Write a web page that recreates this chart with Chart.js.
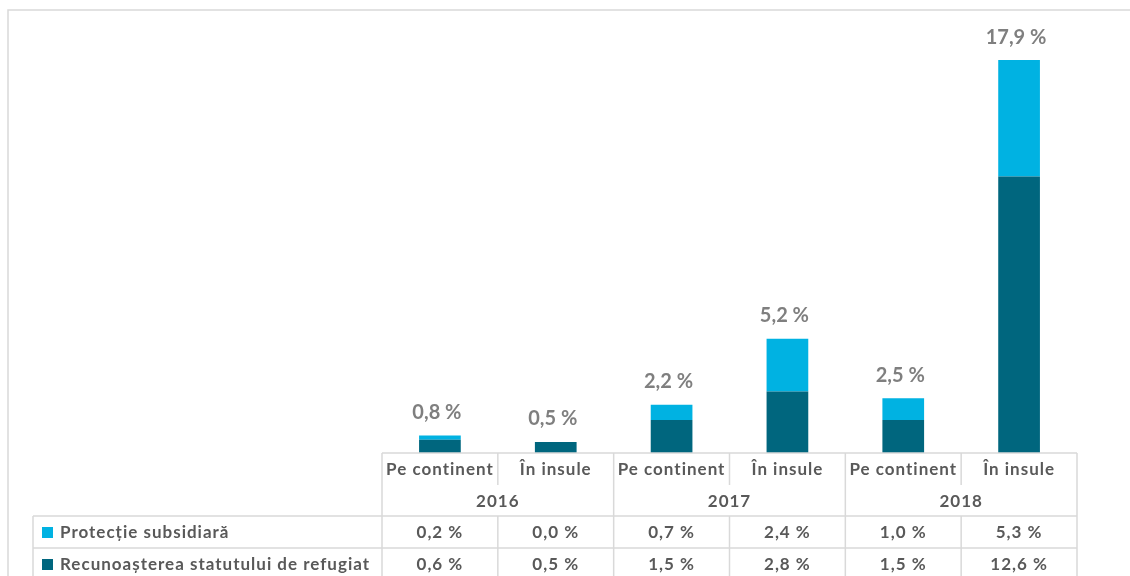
<!DOCTYPE html>
<html>
<head>
<meta charset="utf-8">
<script src="https://cdn.jsdelivr.net/npm/chart.js@4/dist/chart.umd.min.js"></script>
<style>
  html, body { margin: 0; padding: 0; background: #fff; }
  #wrap { width: 1130px; height: 576px; position: relative; }
</style>
</head>
<body>
<div id="wrap"><canvas id="chart" width="1130" height="576"></canvas></div>
<script>
// values
const categories = ['Pe continent', 'În insule', 'Pe continent', 'În insule', 'Pe continent', 'În insule']
const years = ['2016', '2017', '2018']
const subsidiara = [0.2, 0.0, 0.7, 2.4, 1.0, 5.3]
const refugiat = [0.6, 0.5, 1.5, 2.8, 1.5, 12.6]
const totals = [0.8, 0.5, 2.2, 5.2, 2.5, 17.9]
const seriesNames = ['Protecție subsidiară', 'Recunoașterea statutului de refugiat']

const lightBlue = '#00B2E2'
const darkTeal = '#00667E'
const gridColor = '#D9D9D9'
const textColor = '#595959'
const FONT = 'Lato, "DejaVu Sans", sans-serif'

function fmt (v) {
  return v.toFixed(1).replace('.', ',') + ' %'
}

const tablePlugin = {
  id: 'tablePlugin',
  afterDraw: function (chart) {
    const ctx = chart.ctx
    const area = chart.chartArea
    const x = chart.scales.x
    const y = chart.scales.y
    const n = categories.length
    const colW = (area.right - area.left) / n
    const top = area.bottom
    const rowCat = top + 32
    const rowYear = top + 63
    const rowS1 = top + 95
    const bottom = chart.height + 5
    const tableLeft = 33

    ctx.save()
    ctx.strokeStyle = gridColor
    ctx.lineWidth = 1.5

    // outer frame
    ctx.beginPath()
    ctx.moveTo(8, chart.height)
    ctx.lineTo(8, 10)
    ctx.lineTo(chart.width, 10)
    ctx.stroke()

    ctx.beginPath()
    // horizontal lines
    ctx.moveTo(area.left, top); ctx.lineTo(area.right, top)
    ctx.moveTo(tableLeft, rowYear); ctx.lineTo(area.right, rowYear)
    ctx.moveTo(tableLeft, rowS1); ctx.lineTo(area.right, rowS1)
    ctx.moveTo(tableLeft, rowYear); ctx.lineTo(tableLeft, bottom)
    // vertical lines
    for (let i = 0; i <= n; i++) {
      const xx = area.left + i * colW
      if (i % 2 === 0) {
        ctx.moveTo(xx, top); ctx.lineTo(xx, bottom)
      } else {
        ctx.moveTo(xx, top); ctx.lineTo(xx, rowCat)
        ctx.moveTo(xx, rowYear); ctx.lineTo(xx, bottom)
      }
    }
    ctx.stroke()

    // texts
    ctx.fillStyle = textColor
    ctx.font = 'bold 17px ' + FONT
    ctx.letterSpacing = '1px'
    ctx.textAlign = 'center'
    ctx.textBaseline = 'middle'
    categories.forEach(function (c, i) {
      ctx.fillText(c, x.getPixelForValue(i), (top + rowCat) / 2 + 1)
    })
    years.forEach(function (yr, j) {
      const cx = area.left + (j * 2 + 1) * colW
      ctx.fillText(yr, cx, (rowCat + rowYear) / 2 + 1)
    })
    const rows = [subsidiara, refugiat]
    const rowCenters = [(rowYear + rowS1) / 2 + 1, rowS1 + 17]
    rows.forEach(function (arr, r) {
      arr.forEach(function (v, i) {
        ctx.fillText(fmt(v), x.getPixelForValue(i), rowCenters[r])
      })
    })

    // legend keys in the table
    ctx.textAlign = 'left'
    const keyColors = [lightBlue, darkTeal]
    seriesNames.forEach(function (name, r) {
      ctx.fillStyle = keyColors[r]
      ctx.fillRect(42, rowCenters[r] - 6, 11, 11)
      ctx.fillStyle = textColor
      ctx.fillText(name, 60, rowCenters[r])
    })

    // totals above the bars
    ctx.letterSpacing = '0px'
    ctx.fillStyle = '#7F7F7F'
    ctx.font = 'bold 20px ' + FONT
    ctx.textAlign = 'center'
    totals.forEach(function (t, i) {
      ctx.fillText(fmt(t), x.getPixelForValue(i) - 3, y.getPixelForValue(t) - 23)
    })
    ctx.restore()
  }
}

const ctx = document.getElementById('chart')

const myChart = new Chart(ctx, {
  type: 'bar',
  data: {
    labels: categories,
    datasets: [
      {
        label: seriesNames[1],
        data: refugiat,
        backgroundColor: darkTeal,
        barPercentage: 0.36,
        categoryPercentage: 1
      },
      {
        label: seriesNames[0],
        data: subsidiara,
        backgroundColor: lightBlue,
        barPercentage: 0.36,
        categoryPercentage: 1
      }
    ]
  },
  options: {
    responsive: false,
    animation: false,
    layout: {
      padding: { left: 382, right: 53, top: 14, bottom: 123 }
    },
    scales: {
      x: { stacked: true, display: false },
      y: { stacked: true, display: false, min: 0, max: 20 }
    },
    plugins: {
      legend: { display: false },
      tooltip: { enabled: false }
    }
  },
  plugins: [tablePlugin]
})
</script>
</body>
</html>
